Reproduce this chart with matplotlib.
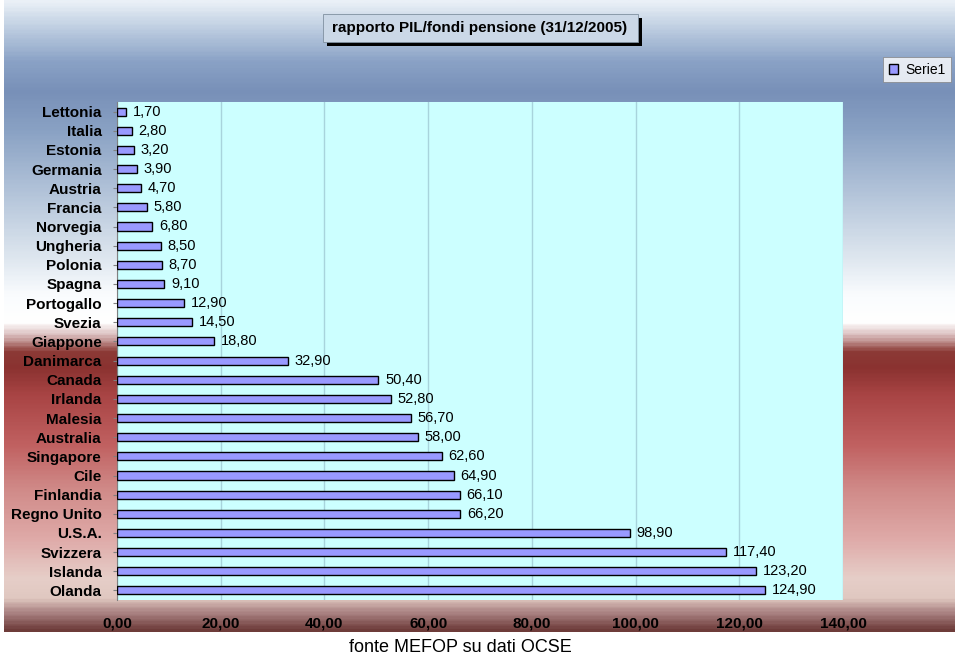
import numpy as np
import matplotlib
matplotlib.use('Agg')
import matplotlib.pyplot as plt
from matplotlib.colors import LinearSegmentedColormap
from matplotlib.patches import Rectangle

paesi = ['Lettonia', 'Italia', 'Estonia', 'Germania', 'Austria', 'Francia', 'Norvegia',
         'Ungheria', 'Polonia', 'Spagna', 'Portogallo', 'Svezia', 'Giappone', 'Danimarca',
         'Canada', 'Irlanda', 'Malesia', 'Australia', 'Singapore', 'Cile', 'Finlandia',
         'Regno Unito', 'U.S.A.', 'Svizzera', 'Islanda', 'Olanda']
valori = [1.70, 2.80, 3.20, 3.90, 4.70, 5.80, 6.80, 8.50, 8.70, 9.10, 12.90, 14.50, 18.80,
          32.90, 50.40, 52.80, 56.70, 58.00, 62.60, 64.90, 66.10, 66.20, 98.90, 117.40,
          123.20, 124.90]
x_ticks = [0, 20, 40, 60, 80, 100, 120, 140]

W, H = 959, 656
plt.rcParams['font.family'] = ['Liberation Sans', 'DejaVu Sans']

fig = plt.figure(figsize=(W / 100, H / 100), dpi=100)
fig.patch.set_facecolor('white')

# sfondo sfumato (blu -> bianco -> rosso)
stops = [(0, '#eaf0f7'), (20, '#c8d6e6'), (60, '#8aa2c6'), (90, '#7890b8'),
         (130, '#8aa2c4'), (200, '#b8c8dc'), (260, '#e0e8f0'), (295, '#fafcfe'),
         (322, '#ffffff'), (335, '#dcc0c0'), (352, '#8c3a36'), (368, '#8a3230'),
         (395, '#a84444'), (445, '#c06060'), (490, '#d08a88'), (540, '#dfaaa8'),
         (580, '#e6cec8'), (600, '#e0c8c0'), (615, '#a88080'), (632, '#6e3c3a')]
grad_h = 632
cmap = LinearSegmentedColormap.from_list('bg', [(p / grad_h, c) for p, c in stops])
bg = fig.add_axes([4 / W, (H - grad_h) / H, 951 / W, grad_h / H], zorder=0)
bg.imshow(np.linspace(0, 1, 400).reshape(-1, 1), cmap=cmap, aspect='auto',
          extent=[0, 1, 0, 1], origin='upper')
bg.set_axis_off()

# grafico
ax = fig.add_axes([117 / W, 1 - 600 / H, 726 / W, 498 / H], zorder=1)
ax.set_facecolor('#ccffff')
y = np.arange(len(paesi))
ax.barh(y, valori, height=0.42, color='#9999ff', edgecolor='black', linewidth=1.0,
        zorder=3, label='Serie1')
for yi, v in zip(y, valori):
    ax.text(v + 1.3, yi, f'{v:.2f}'.replace('.', ','), va='center', ha='left',
            fontsize=10.5, zorder=4)

ax.set_xlim(0, 140)
ax.set_ylim(len(paesi) - 0.5, -0.5)
ax.set_xticks(x_ticks)
ax.set_xticklabels([f'{t:.2f}'.replace('.', ',') for t in x_ticks],
                   fontsize=11, fontweight='bold')
ax.set_yticks(y)
ax.set_yticklabels(paesi, fontsize=11, fontweight='bold')
ax.tick_params(axis='x', length=0, pad=12)
ax.tick_params(axis='y', length=3, pad=8, color='#808080')
ax.grid(axis='x', color='#a8d4dc', linewidth=1, zorder=1)
for s in ['top', 'right', 'bottom']:
    ax.spines[s].set_visible(False)
ax.spines['left'].set_color('#808080')

# titolo con ombra
fig.patches.append(Rectangle((327 / W, 1 - 46 / H), 315 / W, 28 / H,
                             transform=fig.transFigure, facecolor='black', zorder=2))
fig.patches.append(Rectangle((323 / W, 1 - 42 / H), 315 / W, 28 / H,
                             transform=fig.transFigure, facecolor='#cbd8e7',
                             edgecolor='#8090a0', linewidth=0.6, zorder=3))
fig.text(480 / W, 1 - 28 / H, 'rapporto PIL/fondi pensione (31/12/2005)',
         ha='center', va='center', fontsize=11, fontweight='bold', zorder=4)

leg = fig.legend(loc='upper right', bbox_to_anchor=(951 / W, 1 - 57 / H),
                 fontsize=10, frameon=True, fancybox=False, edgecolor='#808080',
                 handlelength=0.7, handleheight=0.7, handletextpad=0.5,
                 borderpad=0.4, borderaxespad=0)
leg.get_frame().set_linewidth(0.6)

fig.text(460 / W, 1 - 648 / H, 'fonte MEFOP su dati OCSE', ha='center', va='center',
         fontsize=13, family=['Liberation Sans Narrow', 'Liberation Sans', 'DejaVu Sans'])

fig.savefig('out.png', dpi=100)
